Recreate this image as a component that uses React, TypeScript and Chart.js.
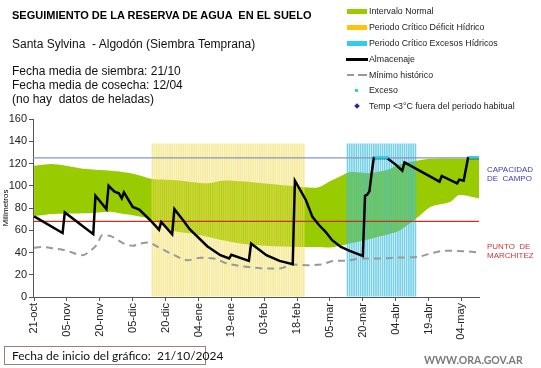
import React, { useEffect, useRef } from "react";
import { Chart, registerables } from "chart.js";
Chart.register(...registerables);

// ---------- DATA ----------
// x values are days counted from 21/10/2024 (day 0)
const TICK_DAYS = [0, 15, 30, 45, 60, 75, 90, 105, 120, 135, 150, 165, 180, 195];
const TICK_LABELS = ["21-oct", "05-nov", "20-nov", "05-dic", "20-dic", "04-ene", "19-ene", "03-feb", "18-feb", "05-mar", "20-mar", "04-abr", "19-abr", "04-may"];

const BAND_DAYS = [0, 9, 24, 35, 39, 47, 54, 63, 71, 79, 86, 94, 102, 117, 129, 135, 140, 144, 153, 157, 161, 167, 175, 181, 190, 194, 203];
const BAND_UPPER = [118, 119.4, 115, 113.5, 112.7, 110, 106, 105.2, 103.7, 102.2, 104.6, 104, 102.8, 100, 98.3, 104, 108.8, 112.2, 111.3, 112.5, 114.2, 119.4, 122.6, 124.2, 124.5, 124.6, 124.8];
const BAND_LOWER = [72.8, 74.6, 75.2, 76.6, 75.2, 72.8, 69.5, 60.1, 57.2, 54.1, 51, 48.1, 46.5, 45.1, 45, 44.5, 46, 48, 52, 54.1, 56, 60.1, 71.6, 81.2, 85.7, 91.7, 88.7];

const ALMACENAJE_DAYS = [0, 13, 14, 27, 28, 33, 34, 36.7, 38.7, 40, 41, 45, 48, 53, 57, 58, 63, 64, 68, 71, 79, 85, 89, 90, 98, 99, 106, 112, 118, 119, 121, 124, 127, 130, 133, 136, 140, 144, 150, 151, 152, 153, 154, 155, 161, 165, 168, 169, 185, 186, 193, 194, 196, 198, 203];
const ALMACENAJE = [72.5, 57.5, 76, 56.5, 91, 79, 100, 94.7, 93.2, 88.7, 94, 81, 78.5, 69, 60.5, 67.5, 56.5, 79, 69, 61, 45.7, 37.6, 34.6, 38, 32.5, 48, 37.6, 32.5, 29.5, 104.6, 97.7, 87.2, 72, 64.7, 58.6, 51.1, 45, 41.5, 37, 91, 92, 95, 111, 125, 125, 119, 113.5, 121, 103.7, 108.8, 102.2, 105.5, 104.6, 125, 125];

const MINIMO_DAYS = [0, 3, 9, 15, 22, 26, 29, 31, 35, 41, 45, 48, 52, 57, 64, 70, 76, 82, 88, 97, 106, 112, 118, 124, 131, 137, 141, 150, 158, 166, 175, 181, 187, 196, 203];
const MINIMO = [44.2, 45, 43.6, 41.5, 37.6, 42, 48, 55.6, 54.7, 48, 46, 47.8, 49, 44.5, 37.6, 33.1, 35.2, 34.6, 30.1, 27.1, 25.6, 25.6, 29.2, 28.6, 29.2, 32.5, 32.5, 34.6, 34.6, 35.5, 36.1, 39.1, 41.5, 41.2, 40];

const EXCESO_DAYS = [156, 157, 158, 159, 160, 161, 199, 200, 201, 202, 203];
const EXCESO = [125.5, 125.5, 125.5, 125.5, 125.5, 125.5, 125.5, 125.5, 125.5, 125.5, 125.5];

const PERIODO_DEFICIT = [54, 123]; // first and last day
const PERIODO_EXCESO = [143, 174];
const PERIODO_ALTURA = 138;

const CAPACIDAD_CAMPO = 125;
const PUNTO_MARCHITEZ = 68;
const X_MIN = -0.5;
const X_MAX = 203;

const pts = (xs: number[], ys: number[]) => xs.map((x, i) => ({ x, y: ys[i] }));
const periodBars = (p: number[], h: number) => {
  const out: { x: number; y: number }[] = [];
  for (let d = p[0]; d <= p[1]; d++) out.push({ x: d, y: h });
  return out;
};

const FONT = "'Liberation Sans', Arial, sans-serif";

export default function App() {
  const ref = useRef<HTMLCanvasElement | null>(null);

  useEffect(() => {
    if (!ref.current) return;
    Chart.defaults.font.family = FONT;
    const chart = new Chart(ref.current, {
      type: "line",
      data: {
        datasets: [
          {
            label: "Intervalo Normal",
            data: pts(BAND_DAYS, BAND_UPPER),
            borderWidth: 0,
            pointRadius: 0,
            backgroundColor: "#99CC00",
            fill: 1,
            tension: 0.3,
            order: 10,
          } as any,
          {
            label: "lower",
            data: pts(BAND_DAYS, BAND_LOWER),
            borderWidth: 0,
            pointRadius: 0,
            fill: false,
            tension: 0.3,
            order: 10,
          },
          {
            type: "bar",
            label: "Periodo Crítico Déficit Hídrico",
            data: periodBars(PERIODO_DEFICIT, PERIODO_ALTURA),
            backgroundColor: "rgba(240, 220, 90, 0.6)",
            grouped: false,
            categoryPercentage: 1,
            barPercentage: 0.8,
            order: 8,
          } as any,
          {
            type: "bar",
            label: "Periodo Crítico Excesos Hídricos",
            data: periodBars(PERIODO_EXCESO, PERIODO_ALTURA),
            backgroundColor: "rgba(60, 190, 222, 0.7)",
            grouped: false,
            categoryPercentage: 1,
            barPercentage: 0.75,
            order: 8,
          } as any,
          {
            label: "Capacidad de campo",
            data: [{ x: X_MIN, y: CAPACIDAD_CAMPO }, { x: X_MAX, y: CAPACIDAD_CAMPO }],
            borderColor: "#8497BD",
            borderWidth: 1.3,
            pointRadius: 0,
            order: 5,
          },
          {
            label: "Punto de marchitez",
            data: [{ x: X_MIN, y: PUNTO_MARCHITEZ }, { x: X_MAX, y: PUNTO_MARCHITEZ }],
            borderColor: "#C8301E",
            borderWidth: 1.3,
            pointRadius: 0,
            order: 5,
          },
          {
            label: "Mínimo histórico",
            data: pts(MINIMO_DAYS, MINIMO),
            borderColor: "#999999",
            borderWidth: 2,
            borderDash: [7, 5],
            pointRadius: 0,
            cubicInterpolationMode: "monotone",
            order: 3,
          },
          {
            label: "Almacenaje",
            data: pts(ALMACENAJE_DAYS, ALMACENAJE),
            borderColor: "#000000",
            borderWidth: 2.5,
            pointRadius: 0,
            order: 2,
          },
          {
            label: "Exceso",
            data: pts(EXCESO_DAYS, EXCESO),
            showLine: false,
            pointStyle: "rect",
            pointRadius: 2,
            pointBackgroundColor: "#33CCEE",
            pointBorderWidth: 0,
            order: 1,
          },
        ],
      },
      options: {
        animation: false,
        responsive: false,
        devicePixelRatio: 1,
        layout: { padding: { top: 119, right: 62, left: 0, bottom: 0 } },
        plugins: { legend: { display: false }, tooltip: { enabled: false } },
        scales: {
          x: {
            type: "linear",
            min: X_MIN,
            max: X_MAX,
            offset: false,
            afterBuildTicks: (scale: any) => {
              scale.ticks = TICK_DAYS.map((v) => ({ value: v }));
            },
            afterFit: (scale: any) => {
              scale.height = 71;
            },
            ticks: {
              autoSkip: false,
              minRotation: 90,
              maxRotation: 90,
              padding: 2,
              color: "#222",
              font: { size: 11, family: FONT },
              callback: (v: any) => {
                const i = TICK_DAYS.indexOf(Number(v));
                return i >= 0 ? TICK_LABELS[i] : "";
              },
            },
            grid: { display: true, drawOnChartArea: false, drawTicks: true, tickLength: 4, color: "#555", offset: false },
            border: { display: true, color: "#555", width: 1 },
          },
          y: {
            min: 0,
            max: 160,
            afterFit: (scale: any) => {
              scale.width = 33;
            },
            ticks: { stepSize: 20, color: "#222", padding: 2, font: { size: 11, family: FONT } },
            grid: { display: true, drawOnChartArea: false, drawTicks: true, tickLength: 4, color: "#555" },
            border: { display: true, color: "#555", width: 1 },
            title: { display: true, text: "Milímetros", color: "#000", font: { size: 8, family: FONT }, padding: { top: 1, bottom: 0 } },
          },
        },
      },
    });
    return () => chart.destroy();
  }, []);

  const abs = (l: number, t: number, extra: any = {}) => ({ position: "absolute" as const, left: l, top: t, ...extra });
  const legendRow = (top: number, swatch: React.ReactNode, text: string) => (
    <div style={abs(346, top - 6, { height: 12, display: "flex", alignItems: "center", whiteSpace: "nowrap" })}>
      <div style={{ width: 22, height: 12, position: "relative" }}>{swatch}</div>
      <span style={{ marginLeft: 1, fontSize: 8.8, color: "#222", fontFamily: FONT, lineHeight: "12px" }}>{text}</span>
    </div>
  );

  return (
    <div style={{ position: "fixed", left: 0, top: 0, width: 541, height: 368, background: "#fff", overflow: "hidden", fontFamily: FONT }}>
      <canvas ref={ref} width={541} height={368} style={{ position: "absolute", left: 0, top: 0, width: 541, height: 368 }} />
      <div style={abs(12, 8, { fontSize: 11, fontWeight: "bold", lineHeight: "14px", whiteSpace: "pre", color: "#000" })}>SEGUIMIENTO DE LA RESERVA DE AGUA  EN EL SUELO</div>
      <div style={abs(12, 37, { fontSize: 12, lineHeight: "14px", whiteSpace: "pre", color: "#111" })}>Santa Sylvina  - Algodón (Siembra Temprana)</div>
      <div style={abs(12, 64, { fontSize: 12, lineHeight: "14px", whiteSpace: "pre", color: "#111" })}>
        <div>Fecha media de siembra: 21/10</div>
        <div>Fecha media de cosecha: 12/04</div>
        <div>(no hay  datos de heladas)</div>
      </div>

      {legendRow(11, <div style={{ position: "absolute", left: 1, top: 4, width: 20, height: 5, background: "#99CC00" }} />, "Intervalo Normal")}
      {legendRow(27, <div style={{ position: "absolute", left: 1, top: 4, width: 20, height: 5, background: "#FFC20E" }} />, "Periodo Crítico Déficit Hídrico")}
      {legendRow(43, <div style={{ position: "absolute", left: 1, top: 4, width: 20, height: 5, background: "#33CCEE" }} />, "Periodo Crítico Excesos Hídricos")}
      {legendRow(59, <div style={{ position: "absolute", left: 0, top: 5, width: 22, height: 2.5, background: "#000" }} />, "Almacenaje")}
      {legendRow(
        75,
        <>
          <div style={{ position: "absolute", left: 1, top: 5, width: 7, height: 2, background: "#999" }} />
          <div style={{ position: "absolute", left: 12, top: 5, width: 9, height: 2, background: "#999" }} />
        </>,
        "Mínimo histórico"
      )}
      {legendRow(90, <div style={{ position: "absolute", left: 9, top: 5, width: 3, height: 3, background: "#33CCEE" }} />, "Exceso")}
      {legendRow(106, <div style={{ position: "absolute", left: 9, top: 4, width: 4, height: 4, background: "#1F2A9A", transform: "rotate(45deg)" }} />, "Temp <3°C fuera del periodo habitual")}

      <div style={abs(487, 165, { fontSize: 8, lineHeight: "9px", color: "#3A3DB8", whiteSpace: "pre" })}>
        <div>CAPACIDAD</div>
        <div>DE  CAMPO</div>
      </div>
      <div style={abs(487, 242, { fontSize: 8, lineHeight: "9px", color: "#C83A3A", whiteSpace: "pre" })}>
        <div>PUNTO  DE</div>
        <div>MARCHITEZ</div>
      </div>

      <div style={abs(4, 346, { width: 202, height: 19, border: "1px solid #9A7F7F", boxSizing: "border-box", fontFamily: "Lato, 'Open Sans', sans-serif", fontSize: 12, lineHeight: "17px", paddingLeft: 7, whiteSpace: "pre", color: "#111" })}>
        Fecha de inicio del gráfico:  21/10/2024
      </div>
      <div style={abs(424, 354, { fontSize: 10.5, fontWeight: "bold", color: "#7A7A7A", fontFamily: "Lato, 'Open Sans', sans-serif", lineHeight: "12px" })}>WWW.ORA.GOV.AR</div>
    </div>
  );
}
